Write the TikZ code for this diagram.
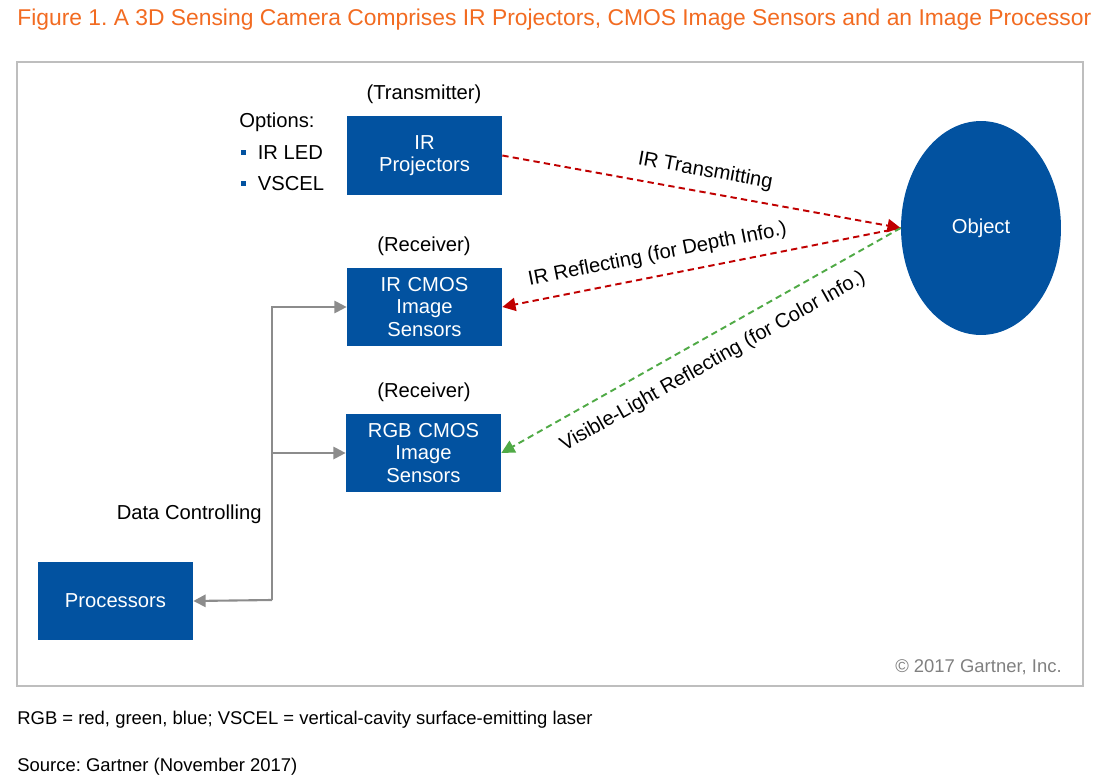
\documentclass[tikz,border=0pt]{standalone}
\usepackage{fontspec}
\setmainfont{Liberation Sans}
\frenchspacing
\usetikzlibrary{shapes.geometric,arrows.meta}

\definecolor{boxblue}{RGB}{2,82,160}
\definecolor{titleorange}{RGB}{242,107,33}
\definecolor{rayred}{RGB}{192,0,0}
\definecolor{raygreen}{RGB}{80,170,70}
\definecolor{linkgray}{RGB}{140,140,140}
\definecolor{framegray}{RGB}{190,190,190}

\newcommand{\optbullet}{\textcolor{boxblue}{\raisebox{3pt}{\rule{2.4pt}{2.4pt}}}\hspace{7pt}}

\tikzset{
  box/.style={fill=boxblue, text=white, minimum width=3.1cm, minimum height=1.58cm,
    text width=2.9cm, align=center, inner sep=0pt, font=\fontsize{11.5}{12.8}\selectfont},
  lbl/.style={font=\fontsize{11.5}{13}\selectfont, inner sep=0pt},
  ray/.style={line width=1.1pt, dash pattern=on 3.6pt off 2.4pt, -{Triangle[length=7.5pt,width=7.5pt]}},
  link/.style={line width=1.2pt, draw=linkgray, -{Triangle[length=7pt,width=7pt]}}
}

\begin{document}
\begin{tikzpicture}[x=0.02cm, y=-0.02cm]
\useasboundingbox (0,0) rectangle (1102,784);

% title and frame
\node[anchor=base west, inner sep=0pt, text=titleorange, font=\fontsize{13}{15}\selectfont] (title) at (17,26)
  {Figure 1. A 3D Sensing Camera Comprises IR Projectors, CMOS Image Sensors and an Image Processor};
\draw[framegray, line width=0.8pt] (17,62) rectangle (1083,686);

% boxes
\node[box] (proj) at (424.5,155.5) {IR\\Projectors};
\node[box] (irsens) at (424.5,307) {IR CMOS\\Image\\Sensors};
\node[box] (rgbsens) at (423.5,453) {RGB CMOS\\Image\\Sensors};
\node[box] (proc) at (115.5,601) {Processors};
\node[ellipse, fill=boxblue, text=white, minimum width=3.2cm, minimum height=4.28cm, inner sep=0pt,
  font=\fontsize{11.5}{13}\selectfont] (obj) at (981,228) {Object};

% captions over the boxes
\node[lbl] (trans) at (424,94) {(Transmitter)};
\node[lbl] (recv1) at (424,246) {(Receiver)};
\node[lbl] (recv2) at (424,392) {(Receiver)};

\node[lbl, anchor=west] (opt) at (239,122) {Options:};
\node[lbl, anchor=west] (led) at (241,153) {\optbullet IR LED};
\node[lbl, anchor=west] (vcsel) at (241,184) {\optbullet VSCEL};

% light paths
\draw[ray, rayred] (proj.east) -- (obj.west)
  node[midway, sloped, above=6pt, text=black, lbl] {IR Transmitting};
\draw[ray, rayred] (obj.west) -- (irsens.east)
  node[pos=0.6, sloped, above=6pt, text=black, lbl] {IR Reflecting (for Depth Info.)};
\draw[ray, raygreen] (obj.west) -- (rgbsens.east)
  node[pos=0.5, sloped, below=8pt, text=black, lbl] {Visible-Light Reflecting (for Color Info.)};

% data lines
\coordinate (trunk) at (272,600);
\draw[link] (trunk) |- (irsens.west);
\draw[link] (trunk |- rgbsens.west) -- (rgbsens.west);
\draw[link] (trunk) -- (proc.east);
\node[lbl, anchor=east] (data) at (262,514) {Data Controlling};

\node[anchor=east, inner sep=0pt, text=gray, font=\fontsize{10.5}{12}\selectfont] (copy) at (1062,667) {\textcopyright\ 2017 Gartner, Inc.};

% notes under the frame
\node[anchor=base west, inner sep=0pt, font=\fontsize{10.5}{12}\selectfont] (note) at (17,724)
  {RGB = red, green, blue; VSCEL = vertical-cavity surface-emitting laser};
\node[anchor=base west, inner sep=0pt, font=\fontsize{10.5}{12}\selectfont] (src) at (17,771)
  {Source: Gartner (November 2017)};
\end{tikzpicture}
\end{document}
